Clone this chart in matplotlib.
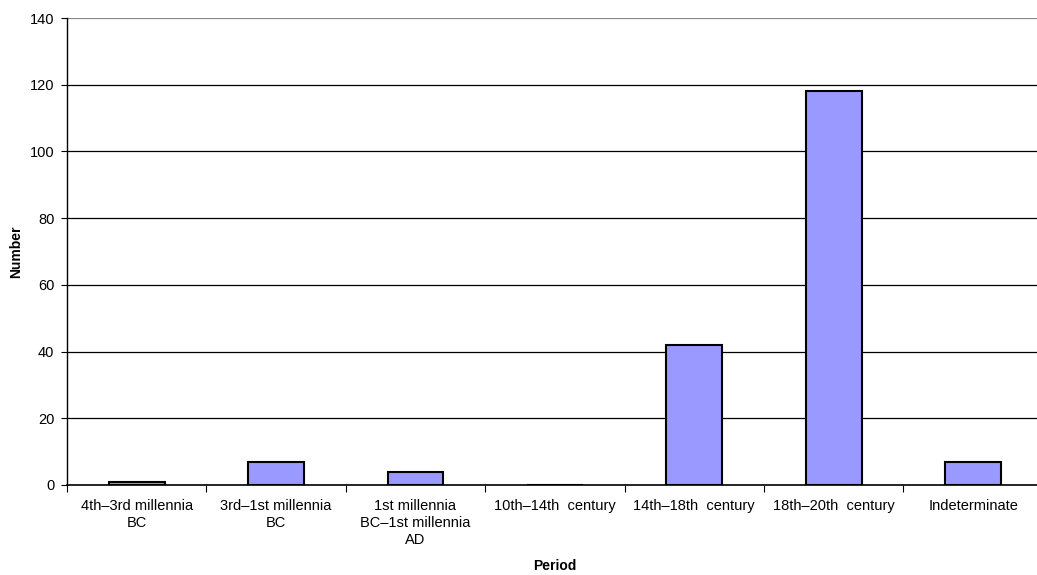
import numpy as np
import matplotlib
matplotlib.use("Agg")
import matplotlib.pyplot as plt

periods = [
    "4th\u20133rd millennia\nBC",
    "3rd\u20131st millennia\nBC",
    "1st millennia\nBC\u20131st millennia\nAD",
    "10th\u201314th  century",
    "14th\u201318th  century",
    "18th\u201320th  century",
    "Indeterminate",
]
counts = [1, 7, 4, 0, 42, 118, 7]
y_ticks = [0, 20, 40, 60, 80, 100, 120, 140]

plt.rcParams['font.family'] = ['Liberation Sans', 'DejaVu Sans']

fig = plt.figure(figsize=(10.37, 5.75), dpi=100)
w, h = 1037, 575
ax = fig.add_axes([67 / w, (h - 485) / h, (1042.8 - 67) / w, (485 - 18) / h])

x = np.arange(len(periods))
ax.bar(x, counts, width=0.4, color='#9999FF', edgecolor='black', linewidth=1.5, zorder=2)

ax.set_xlim(-0.5, len(periods) - 0.5)
ax.set_ylim(0, 140)
ax.set_yticks(y_ticks)
ax.tick_params(axis='y', labelsize=10.5, length=4, width=0.8, pad=5)
for t in y_ticks[1:]:
    ax.axhline(t, color='black' if t < 140 else '#888888', linewidth=0.9, zorder=1)

# category boundaries get the tick marks, centres get the labels
ax.set_xticks(np.arange(len(periods) + 1) - 0.5)
ax.set_xticklabels([])
ax.set_xticks(x, minor=True)
ax.set_xticklabels(periods, minor=True, fontsize=10.5, linespacing=1.3)
ax.tick_params(axis='x', which='major', length=5, width=0.8)
ax.tick_params(axis='x', which='minor', length=0, pad=10)

for s in ['top', 'right']:
    ax.spines[s].set_visible(False)
ax.spines['left'].set_linewidth(1.0)
ax.spines['bottom'].set_linewidth(1.2)
ax.spines['bottom'].set_zorder(3)

ax.set_ylabel("Number", fontsize=10, fontweight='bold', labelpad=5)
ax.set_xlabel("Period", fontsize=10, fontweight='bold', labelpad=8)

fig.savefig("out.png", dpi=100)
